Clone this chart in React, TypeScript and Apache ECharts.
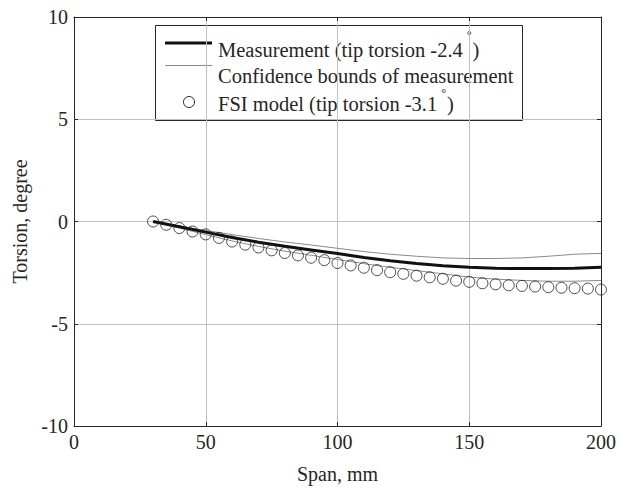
import React, { useEffect, useRef } from "react";
import * as echarts from "echarts";

// Measurement (thick black line), span in mm
const spanMeas = [30, 40, 50, 60, 70, 80, 90, 100, 110, 120, 130, 140, 150, 160, 170, 180, 190, 200];
const measurement = [0, -0.26, -0.52, -0.78, -1.01, -1.21, -1.39, -1.57, -1.76, -1.92, -2.05, -2.16, -2.24, -2.29, -2.3, -2.3, -2.28, -2.24];
// Confidence bounds of measurement (thin grey lines)
const upperBound = [0, -0.22, -0.44, -0.64, -0.83, -1.0, -1.15, -1.31, -1.47, -1.6, -1.7, -1.78, -1.81, -1.81, -1.78, -1.7, -1.6, -1.56];
const lowerBound = [0, -0.32, -0.64, -0.95, -1.22, -1.45, -1.65, -1.86, -2.06, -2.24, -2.4, -2.56, -2.72, -2.82, -2.88, -2.92, -2.92, -2.88];
// FSI model (open circles)
const spanFsi = [30, 35, 40, 45, 50, 55, 60, 65, 70, 75, 80, 85, 90, 95, 100, 105, 110, 115, 120, 125, 130, 135, 140, 145, 150, 155, 160, 165, 170, 175, 180, 185, 190, 195, 200];
const fsiModel = [0, -0.16, -0.32, -0.49, -0.63, -0.8, -0.98, -1.13, -1.27, -1.41, -1.54, -1.66, -1.77, -1.89, -2.03, -2.15, -2.26, -2.38, -2.48, -2.56, -2.65, -2.73, -2.8, -2.89, -2.95, -3.02, -3.07, -3.12, -3.15, -3.18, -3.21, -3.24, -3.26, -3.28, -3.33];

const legendNames = [
  "Measurement (tip torsion -2.4",
  "Confidence bounds of measurement",
  "FSI model (tip torsion -3.1",
];

const FONT = "Liberation Serif";
const INK = "#262626";

const pair = (xs: number[], ys: number[]) => xs.map((x, i) => [x, ys[i]]);

export default function App() {
  const ref = useRef<HTMLDivElement>(null);

  useEffect(() => {
    if (!ref.current) return;
    const chart = echarts.init(ref.current, undefined, { renderer: "svg" });

    const axisText = { color: INK, fontFamily: FONT, fontSize: 20, fontWeight: "normal" };
    const tickLabel = { ...axisText, margin: 6 };

    const option: any = {
      animation: false,
      backgroundColor: "#ffffff",
      textStyle: { fontFamily: FONT },
      grid: { left: 74, right: 17, top: 17, bottom: 56 },
      xAxis: [
        {
          type: "value",
          min: 0,
          max: 200,
          interval: 50,
          position: "bottom",
          axisLine: { show: true, onZero: false, lineStyle: { color: INK, width: 1 } },
          axisTick: { show: true, inside: true, length: 4, lineStyle: { color: INK } },
          axisLabel: tickLabel,
          splitLine: { show: true, lineStyle: { color: "#c0c0c0", width: 1 } },
          name: "Span, mm",
          nameLocation: "middle",
          nameGap: 38,
          nameTextStyle: axisText,
        },
        {
          type: "value",
          min: 0,
          max: 200,
          interval: 50,
          position: "top",
          axisLine: { show: true, onZero: false, lineStyle: { color: INK, width: 1 } },
          axisTick: { show: true, inside: true, length: 4, lineStyle: { color: INK } },
          axisLabel: { show: false },
          splitLine: { show: false },
        },
      ],
      yAxis: [
        {
          type: "value",
          min: -10,
          max: 10,
          interval: 5,
          position: "left",
          axisLine: { show: true, onZero: false, lineStyle: { color: INK, width: 1 } },
          axisTick: { show: true, inside: true, length: 4, lineStyle: { color: INK } },
          axisLabel: tickLabel,
          splitLine: { show: true, lineStyle: { color: "#c0c0c0", width: 1 } },
          name: "Torsion, degree",
          nameLocation: "middle",
          nameGap: 43,
          nameTextStyle: axisText,
        },
        {
          type: "value",
          min: -10,
          max: 10,
          interval: 5,
          position: "right",
          axisLine: { show: true, onZero: false, lineStyle: { color: INK, width: 1 } },
          axisTick: { show: true, inside: true, length: 4, lineStyle: { color: INK } },
          axisLabel: { show: false },
          splitLine: { show: false },
        },
      ],
      series: [
        {
          name: legendNames[1],
          type: "line",
          data: pair(spanMeas, upperBound),
          symbol: "none",
          lineStyle: { color: "#8a8a8a", width: 1 },
          z: 2,
        },
        {
          name: legendNames[1],
          type: "line",
          data: pair(spanMeas, lowerBound),
          symbol: "none",
          lineStyle: { color: "#8a8a8a", width: 1 },
          z: 2,
        },
        {
          name: legendNames[0],
          type: "line",
          data: pair(spanMeas, measurement),
          symbol: "none",
          lineStyle: { color: "#111111", width: 3 },
          z: 3,
        },
        {
          name: legendNames[2],
          type: "scatter",
          data: pair(spanFsi, fsiModel),
          symbol: "circle",
          symbolSize: 11,
          itemStyle: { color: "rgba(0,0,0,0)", borderColor: "#222222", borderWidth: 1 },
          z: 4,
        },
      ],
      graphic: [
        {
          type: "group",
          z: 100,
          children: [
            {
              type: "rect",
              shape: { x: 155.5, y: 25.5, width: 367, height: 95 },
              style: { fill: "#ffffff", stroke: INK, lineWidth: 1 },
            },
            {
              type: "line",
              shape: { x1: 165, y1: 43, x2: 212, y2: 43 },
              style: { stroke: "#111111", lineWidth: 3 },
            },
            {
              type: "line",
              shape: { x1: 165, y1: 65.5, x2: 212, y2: 65.5 },
              style: { stroke: "#8a8a8a", lineWidth: 1 },
            },
            {
              type: "circle",
              shape: { cx: 189, cy: 102, r: 5.5 },
              style: { fill: "none", stroke: "#222222", lineWidth: 1 },
            },
            {
              type: "text",
              x: 218,
              y: 50,
              style: {
                text: "{t|" + legendNames[0] + "}{d|°}{t|)}",
                verticalAlign: "middle",
                align: "left",
                fill: INK,
                fontFamily: FONT,
                fontSize: 20.5,
                rich: {
                  t: { fontFamily: FONT, fontSize: 20.5, fill: INK, verticalAlign: "middle" },
                  d: { fontFamily: FONT, fontSize: 12, fill: INK, verticalAlign: "middle", padding: [0, 1, 30, 4] },
                },
              },
            },
            {
              type: "text",
              x: 218,
              y: 76,
              style: {
                text: legendNames[1],
                verticalAlign: "middle",
                align: "left",
                fill: INK,
                fontFamily: FONT,
                fontSize: 20.5,
              },
            },
            {
              type: "text",
              x: 218,
              y: 104,
              style: {
                text: "{t|" + legendNames[2] + "}{d|°}{t|)}",
                verticalAlign: "middle",
                align: "left",
                fill: INK,
                fontFamily: FONT,
                fontSize: 20.5,
                rich: {
                  t: { fontFamily: FONT, fontSize: 20.5, fill: INK, verticalAlign: "middle" },
                  d: { fontFamily: FONT, fontSize: 12, fill: INK, verticalAlign: "middle", padding: [0, 1, 22, 4] },
                },
              },
            },
          ],
        },
      ],
    };

    chart.setOption(option);
    return () => chart.dispose();
  }, []);

  return (
    <div
      ref={ref}
      style={{ position: "fixed", left: 0, top: 0, width: 619, height: 489, background: "#fff" }}
    />
  );
}
